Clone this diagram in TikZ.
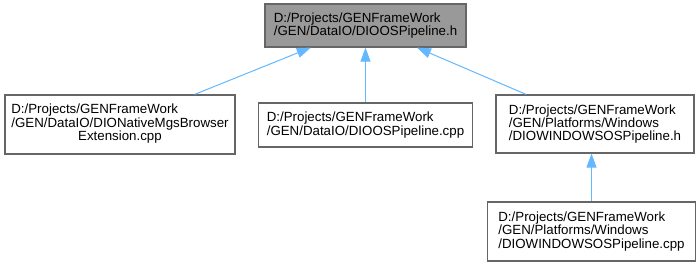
\documentclass[tikz,border=0pt]{standalone}
\usepackage{fontspec}
\setmainfont{Liberation Sans}
\usetikzlibrary{arrows.meta}

\definecolor{edgeblue}{HTML}{63B8FF}
\definecolor{boxline}{HTML}{666666}
\definecolor{curfill}{HTML}{999999}

\tikzstyle{file} = [draw=boxline, line width=1.2pt, fill=white, rectangle, inner sep=0pt, align=left, font=\fontsize{13.3}{13.4}\selectfont]
\tikzstyle{cur}  = [file, fill=curfill]
\tikzstyle{inc}  = [-{Triangle[length=14pt,width=10pt]}, color=edgeblue, line width=1pt]

\begin{document}
\begin{tikzpicture}[x=1pt,y=-1pt]
  \useasboundingbox (0,0) rectangle (698,267);
  \node at (365.5,25.5) (pipeh) [cur, minimum width=201pt, minimum height=43pt]
    {D:/Projects/GENFrameWork\\/GEN/DataIO/DIOOSPipeline.h};
  \node at (120,124.5) (native) [file, minimum width=230pt, minimum height=59pt]
    {\begin{tabular}{@{}l@{}}D:/Projects/GENFrameWork\\/GEN/DataIO/DIONativeMgsBrowser\\\multicolumn{1}{@{}c@{}}{Extension.cpp}\end{tabular}};
  \node at (365.5,125) (pipecpp) [file, minimum width=214pt, minimum height=44pt]
    {D:/Projects/GENFrameWork\\/GEN/DataIO/DIOOSPipeline.cpp};
  \node at (595,124) (winh) [file, minimum width=198pt, minimum height=58pt]
    {D:/Projects/GENFrameWork\\/GEN/Platforms/Windows\\/DIOWINDOWSOSPipeline.h};
  \node at (591.5,231.5) (wincpp) [file, minimum width=208pt, minimum height=59pt]
    {D:/Projects/GENFrameWork\\/GEN/Platforms/Windows\\/DIOWINDOWSOSPipeline.cpp};
  \path[inc] (native)  edge (pipeh)
             (pipecpp) edge (pipeh)
             (winh)    edge (pipeh) ;
  \path[inc] (wincpp.north) edge (wincpp.north |- winh.south) ;
\end{tikzpicture}
\end{document}
